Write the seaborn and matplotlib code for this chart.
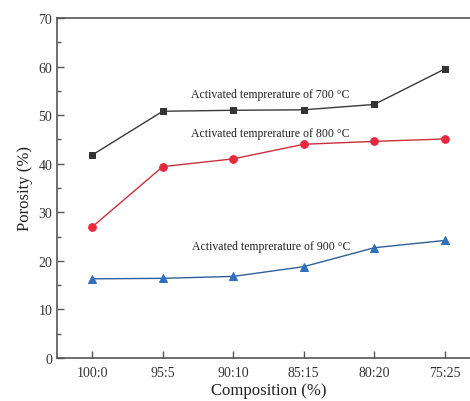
import numpy as np
import pandas as pd
import matplotlib
matplotlib.use("Agg")
import matplotlib.pyplot as plt
import seaborn as sns
from matplotlib.ticker import MultipleLocator

# Porosity of activated samples versus blend composition
compositions = ["100:0", "95:5", "90:10", "85:15", "80:20", "75:25"]
porosity_700 = [41.8, 50.8, 51.0, 51.1, 52.2, 59.5]
porosity_800 = [27.0, 39.4, 41.0, 44.0, 44.6, 45.1]
porosity_900 = [16.3, 16.4, 16.8, 18.8, 22.7, 24.2]

series_names = ["700", "800", "900"]
series_values = [porosity_700, porosity_800, porosity_900]
line_colors = ["#3a3a3a", "#c8303c", "#2f5f9a"]
marker_colors = ["#333333", "#e8283c", "#2f6fc0"]
marker_shapes = ["s", "o", "^"]
label_text = ["Activated temprerature of 700 \u00b0C",
              "Activated temprerature of 800 \u00b0C",
              "Activated temprerature of 900 \u00b0C"]
label_pos = [(2.53, 54.3), (2.53, 46.3), (2.54, 23.0)]

rows = []
for name, vals in zip(series_names, series_values):
    for i, v in enumerate(vals):
        rows.append({"pos": i, "porosity": v, "temp": name})
df = pd.DataFrame(rows)

sns.set_theme(style="white")
plt.rcParams["font.family"] = ["Liberation Serif", "DejaVu Serif"]

fig = plt.figure(figsize=(4.7, 4.02), dpi=100)
W, H = 470, 402
ax = fig.add_axes([57 / W, (H - 359) / H, (480 - 57) / W, (359 - 19) / H])

for name, lc, mc, mk in zip(series_names, line_colors, marker_colors, marker_shapes):
    sub = df[df["temp"] == name]
    sns.lineplot(data=sub, x="pos", y="porosity", ax=ax, color=lc, linewidth=1.0,
                 marker=mk, markersize=5 if mk == "s" else 5.5,
                 markerfacecolor=mc, markeredgecolor=mc, legend=False)

for txt, (x, y) in zip(label_text, label_pos):
    ax.text(x, y, txt, ha="center", va="center", fontsize=8.5, color="#222222")

ax.set_xlim(-0.5, 5.5)
ax.set_ylim(0, 70)
ax.set_xticks(np.arange(len(compositions)))
ax.set_xticklabels(compositions)
ax.yaxis.set_major_locator(MultipleLocator(10))
ax.yaxis.set_minor_locator(MultipleLocator(5))

ax.set_xlabel("Composition (%)", fontsize=12, color="#222222", labelpad=2)
ax.set_ylabel("Porosity (%)", fontsize=12, color="#222222", labelpad=4)

for side in ["left", "bottom", "top", "right"]:
    ax.spines[side].set_color("#555555")
    ax.spines[side].set_linewidth(1.2)

ax.tick_params(axis="both", which="major", direction="in", length=5, width=1,
               color="#555555", labelsize=10, labelcolor="#333333",
               bottom=True, left=True)
ax.tick_params(axis="y", which="minor", direction="in", length=3, width=1,
               color="#555555", left=True)
ax.tick_params(axis="x", pad=6)

fig.savefig("out.png", dpi=100, facecolor="white")
